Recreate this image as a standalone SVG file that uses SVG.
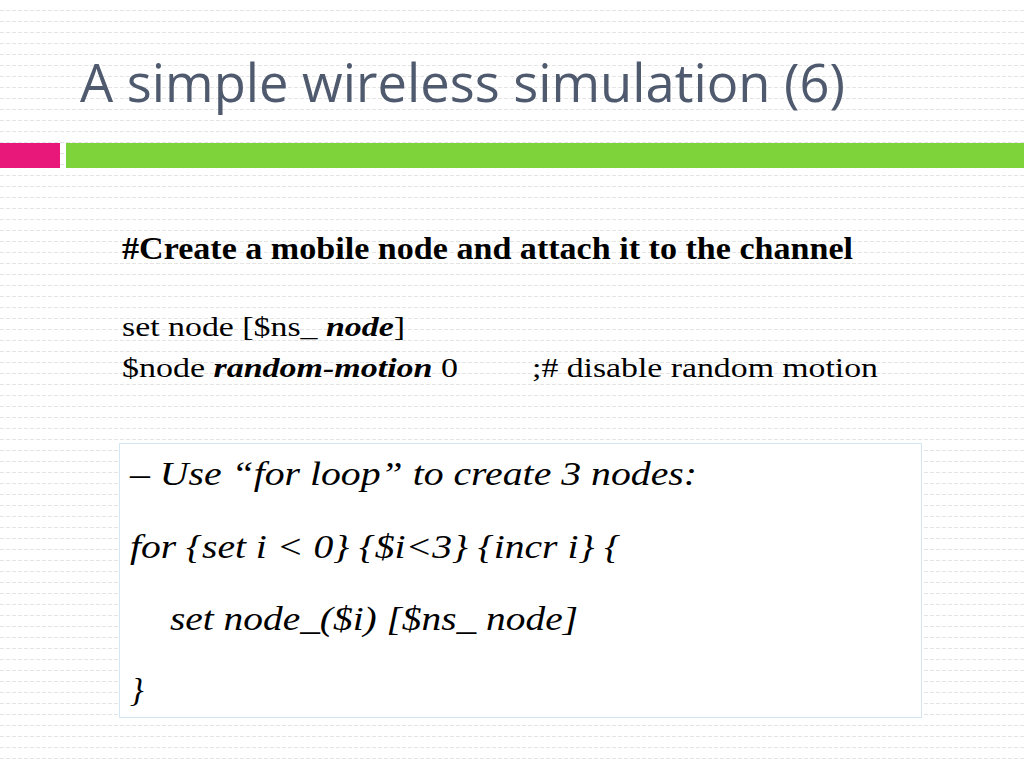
<svg xmlns="http://www.w3.org/2000/svg" width="1024" height="768" viewBox="0 0 1024 768">
<defs>
<pattern id="bg" x="0" y="0" width="6" height="11" patternUnits="userSpaceOnUse">
<rect x="0" y="10" width="4" height="1" fill="#e4e4e4"/>
</pattern>
<style>
.serif{font-family:"Liberation Serif","Times New Roman",serif;fill:#000}
.it{font-style:italic}
</style>
</defs>
<rect width="1024" height="768" fill="#fff"/>
<rect width="1024" height="768" fill="url(#bg)"/>
<g id="title">
<text x="80" y="102" font-family="'Open Sans',Lato,sans-serif" font-size="53" fill="#4f5a6e" textLength="765" lengthAdjust="spacingAndGlyphs">A simple wireless simulation (6)</text>
</g>
<g id="bars">
<rect x="0" y="143" width="60" height="25" fill="#e8177a"/>
<rect x="66" y="143" width="958" height="25" fill="#7ed23a"/>
</g>
<g id="code">
<text class="serif" x="122" y="259" font-size="32" font-weight="bold" textLength="731" lengthAdjust="spacingAndGlyphs">#Create a mobile node and attach it to the channel</text>
<text class="serif" x="122" y="336" font-size="26.5" textLength="283" lengthAdjust="spacingAndGlyphs">set node [$ns_ <tspan font-weight="bold" font-style="italic">node</tspan>]</text>
<text class="serif" x="122" y="377" font-size="26.5" textLength="336" lengthAdjust="spacingAndGlyphs">$node <tspan font-weight="bold" font-style="italic">random-motion</tspan> 0</text>
<text class="serif" x="532" y="377" font-size="26.5" textLength="346" lengthAdjust="spacingAndGlyphs">;# disable random motion</text>
</g>
<g id="loopbox">
<rect x="119.500" y="443.500" width="802" height="274" fill="#fff" stroke="#d4e6f2" stroke-width="1"/>
<text class="serif it" x="130" y="485" font-size="34" textLength="567" lengthAdjust="spacingAndGlyphs">– Use “for loop” to create 3 nodes:</text>
<text class="serif it" x="130" y="558" font-size="34" textLength="490" lengthAdjust="spacingAndGlyphs">for {set i &lt; 0} {$i&lt;3} {incr i} {</text>
<text class="serif it" x="170" y="630" font-size="34" textLength="408" lengthAdjust="spacingAndGlyphs">set node_($i) [$ns_ node]</text>
<text class="serif it" x="130" y="701" font-size="34">}</text>
</g>
</svg>
